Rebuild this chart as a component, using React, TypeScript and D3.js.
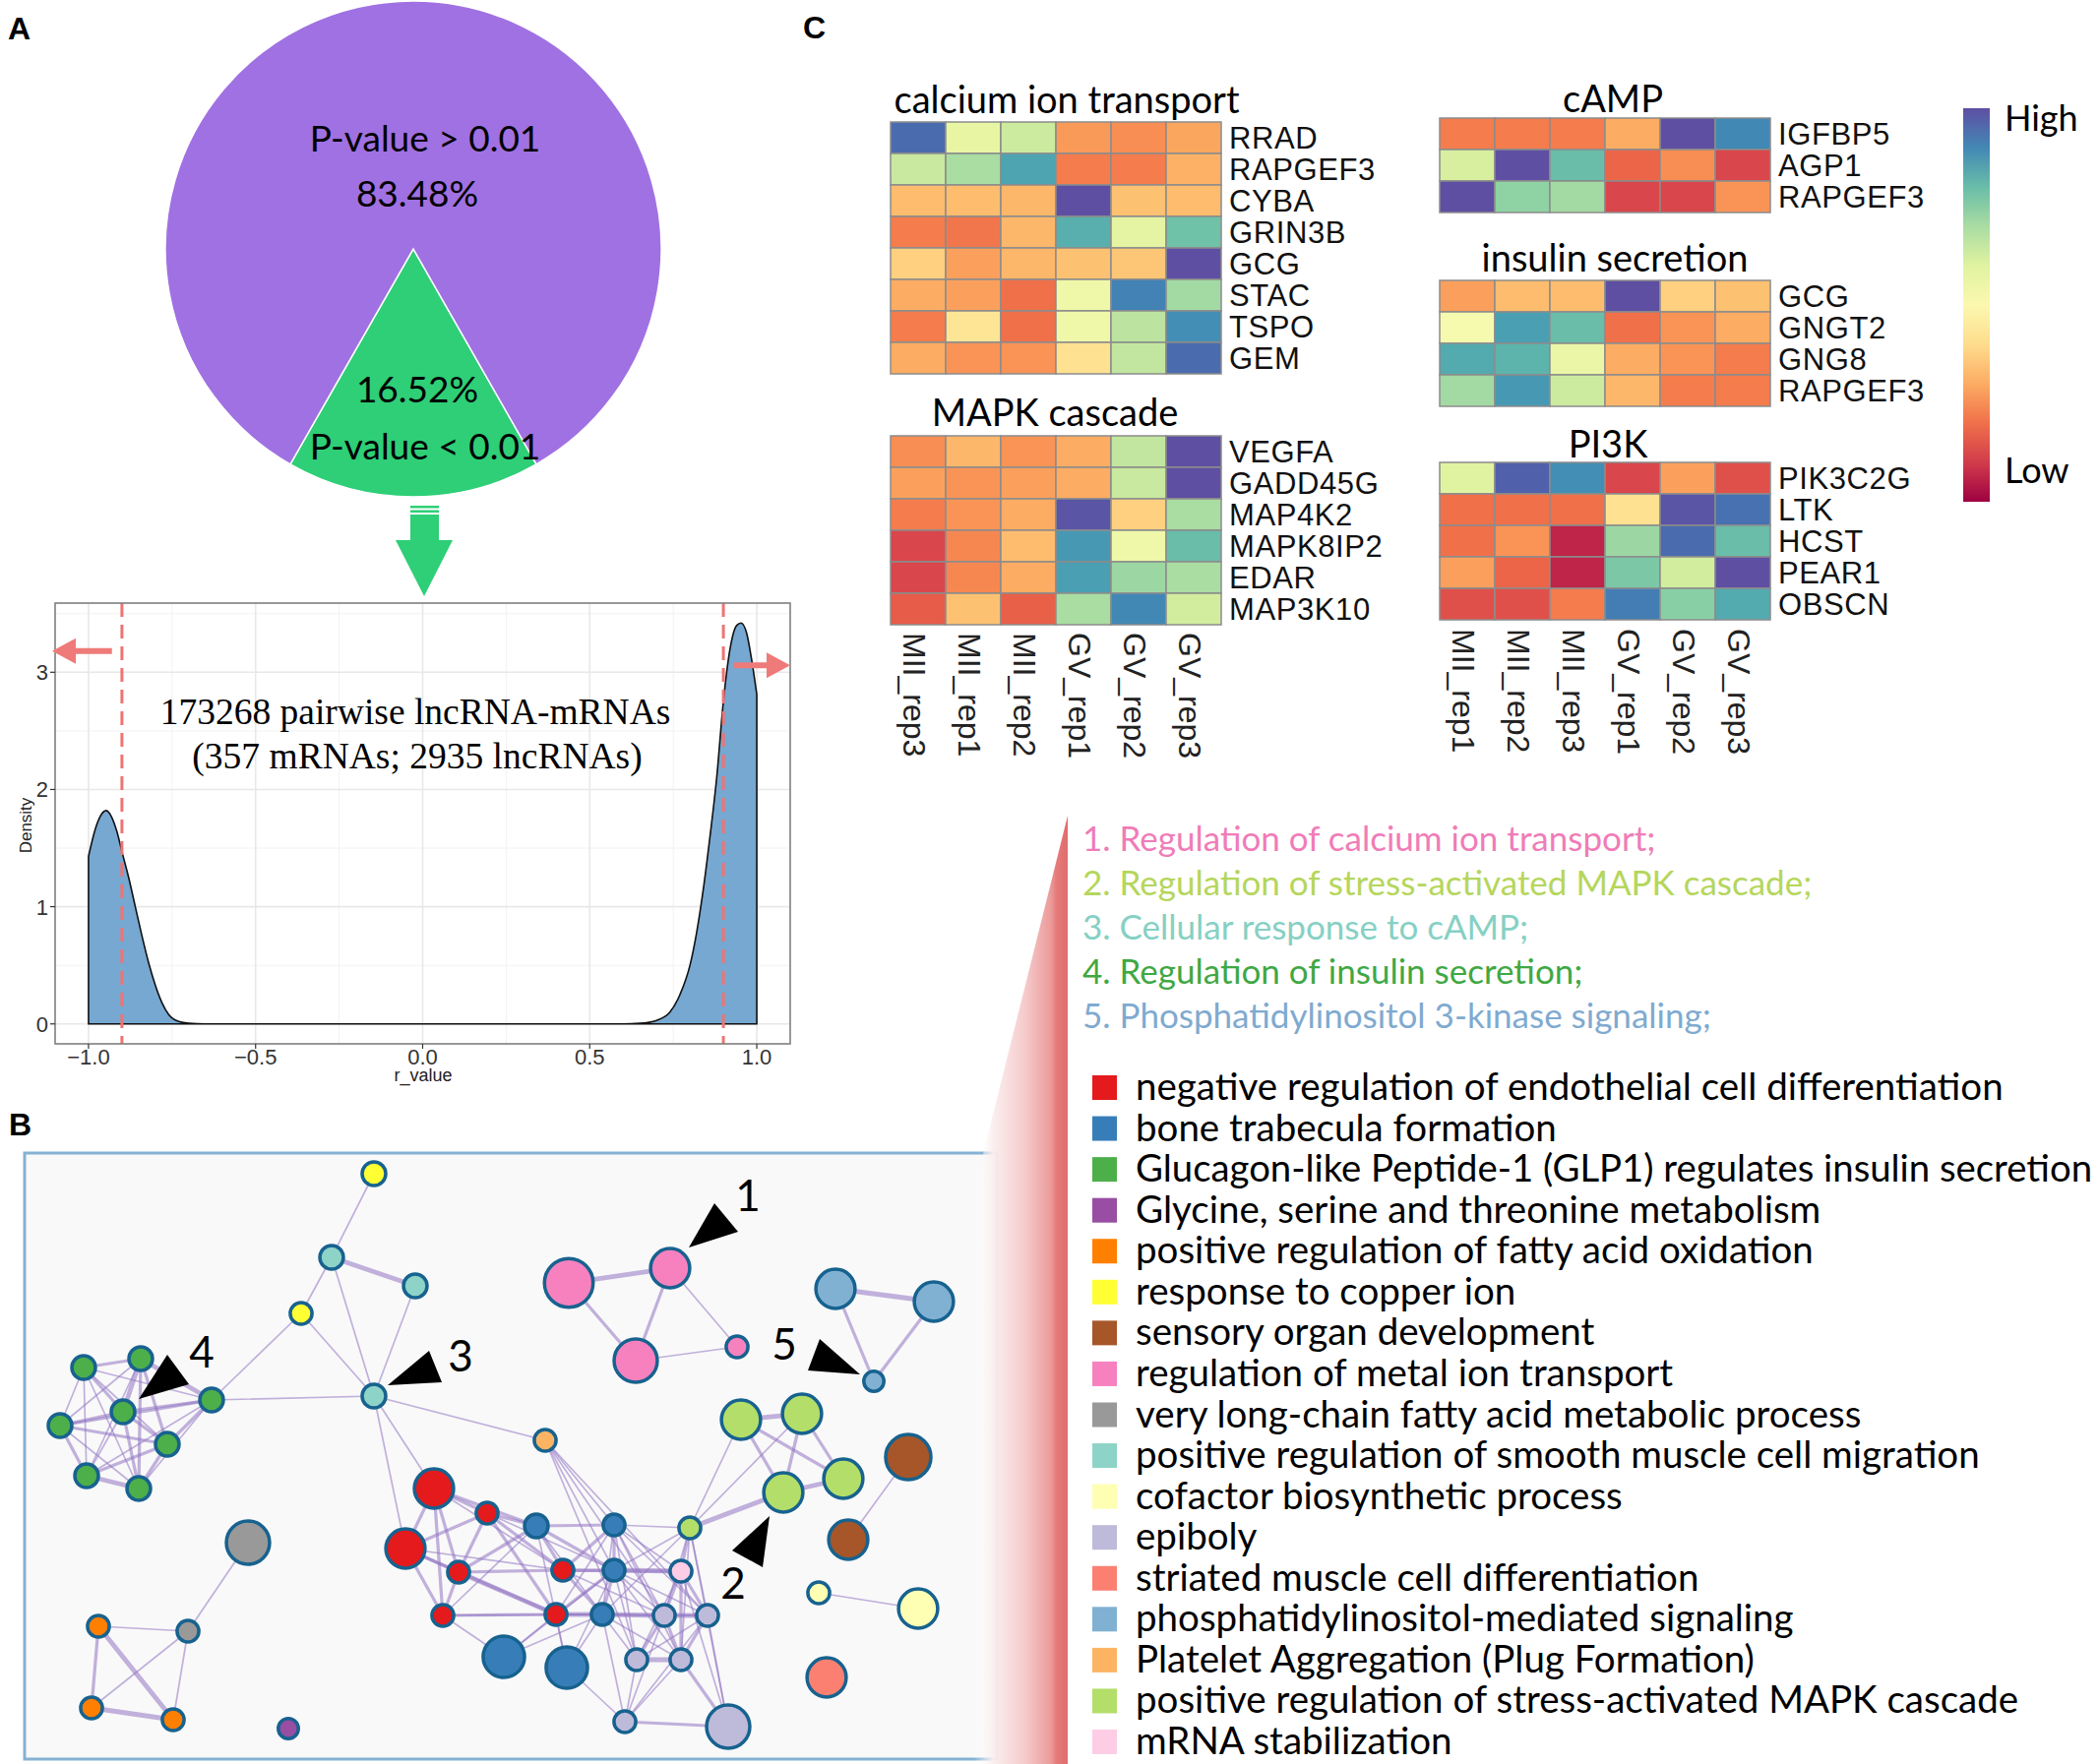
import * as d3 from "d3";

// ---------------- data ----------------
// A: pie
const pieNames = ["P-value < 0.01", "P-value > 0.01"];
const piePercents = [16.52, 83.48];
const pieColors = ["#2ecf77", "#a071e2"];

// A: density of r_value
const densityX = [-1.0, -0.98, -0.965, -0.947, -0.93, -0.915, -0.9, -0.88, -0.86, -0.84, -0.82, -0.8, -0.78, -0.76, -0.73, -0.7, -0.65, 0.6, 0.65, 0.7, 0.74, 0.77, 0.8, 0.82, 0.84, 0.86, 0.88, 0.9, 0.92, 0.94, 0.953, 0.97, 0.985, 1.0];
const densityY = [1.43, 1.66, 1.77, 1.82, 1.76, 1.64, 1.47, 1.25, 1.0, 0.75, 0.52, 0.33, 0.18, 0.08, 0.02, 0.005, 0, 0, 0.005, 0.03, 0.1, 0.25, 0.5, 0.78, 1.15, 1.6, 2.1, 2.75, 3.2, 3.4, 3.42, 3.33, 3.1, 2.81];
const cutoffs = [-0.9, 0.9];
const xTicks = [-1, -0.5, 0, 0.5, 1];
const xMinor = [-0.75, -0.25, 0.25, 0.75];
const yTicks = [0, 1, 2, 3];
const yMinor = [0.5, 1.5, 2.5, 3.5];

// C: heatmaps (0 = low, 1 = high)
const leftSamples = ["MII_rep3", "MII_rep1", "MII_rep2", "GV_rep1", "GV_rep2", "GV_rep3"];
const rightSamples = ["MII_rep1", "MII_rep2", "MII_rep3", "GV_rep1", "GV_rep2", "GV_rep3"];

const calciumGenes = ["RRAD", "RAPGEF3", "CYBA", "GRIN3B", "GCG", "STAC", "TSPO", "GEM"];
const calciumValues = [
  [0.95, 0.58, 0.64, 0.27, 0.25, 0.29],
  [0.65, 0.7, 0.85, 0.22, 0.22, 0.31],
  [0.33, 0.33, 0.32, 1.0, 0.34, 0.33],
  [0.22, 0.21, 0.32, 0.83, 0.59, 0.79],
  [0.37, 0.28, 0.32, 0.34, 0.35, 1.0],
  [0.3, 0.28, 0.2, 0.56, 0.91, 0.71],
  [0.22, 0.42, 0.2, 0.56, 0.67, 0.89],
  [0.3, 0.26, 0.26, 0.41, 0.66, 0.95],
];

const mapkGenes = ["VEGFA", "GADD45G", "MAP4K2", "MAPK8IP2", "EDAR", "MAP3K10"];
const mapkValues = [
  [0.25, 0.32, 0.26, 0.3, 0.66, 1.0],
  [0.28, 0.26, 0.28, 0.3, 0.65, 1.0],
  [0.22, 0.26, 0.3, 0.99, 0.37, 0.7],
  [0.12, 0.24, 0.33, 0.87, 0.56, 0.8],
  [0.12, 0.24, 0.3, 0.86, 0.72, 0.7],
  [0.16, 0.34, 0.17, 0.7, 0.9, 0.63],
];

const campGenes = ["IGFBP5", "AGP1", "RAPGEF3"];
const campValues = [
  [0.22, 0.22, 0.22, 0.3, 1.0, 0.9],
  [0.62, 1.0, 0.8, 0.18, 0.25, 0.12],
  [1.0, 0.74, 0.71, 0.12, 0.12, 0.26],
];

const insulinGenes = ["GCG", "GNGT2", "GNG8", "RAPGEF3"];
const insulinValues = [
  [0.28, 0.33, 0.33, 1.0, 0.37, 0.34],
  [0.53, 0.86, 0.8, 0.2, 0.26, 0.3],
  [0.84, 0.82, 0.57, 0.3, 0.26, 0.22],
  [0.71, 0.87, 0.64, 0.32, 0.22, 0.22],
];

const pi3kGenes = ["PIK3C2G", "LTK", "HCST", "PEAR1", "OBSCN"];
const pi3kValues = [
  [0.6, 0.97, 0.89, 0.12, 0.28, 0.14],
  [0.2, 0.2, 0.2, 0.41, 0.99, 0.94],
  [0.2, 0.26, 0.06, 0.72, 0.95, 0.8],
  [0.28, 0.18, 0.06, 0.77, 0.63, 1.0],
  [0.14, 0.14, 0.22, 0.92, 0.75, 0.84],
];

// B: enrichment network
const termKeys = ["endo", "bone", "glp1", "gly", "fao", "copper", "sensory", "metal", "vlcfa", "smc", "cofactor", "epiboly", "striated", "pi", "platelet", "mapk", "mrna"];
const termLabels = [
  "negative regulation of endothelial cell differentiation",
  "bone trabecula formation",
  "Glucagon-like Peptide-1 (GLP1) regulates insulin secretion",
  "Glycine, serine and threonine metabolism",
  "positive regulation of fatty acid oxidation",
  "response to copper ion",
  "sensory organ development",
  "regulation of metal ion transport",
  "very long-chain fatty acid metabolic process",
  "positive regulation of smooth muscle cell migration",
  "cofactor biosynthetic process",
  "epiboly",
  "striated muscle cell differentiation",
  "phosphatidylinositol-mediated signaling",
  "Platelet Aggregation (Plug Formation)",
  "positive regulation of stress-activated MAPK cascade",
  "mRNA stabilization",
];
const termColors = ["#e41a1c", "#377eb8", "#4daf4a", "#984ea3", "#ff7f00", "#ffff33", "#a65628", "#f781bf", "#999999", "#8dd3c7", "#ffffb3", "#bebada", "#fb8072", "#80b1d3", "#fdb462", "#b3de69", "#fccde5"];

// [id, term, layoutX, layoutY, count]
const nodes: [string, string, number, number, number][] = [
  ["y1", "copper", 355, 21, 4], ["t1", "smc", 312, 106, 4], ["t2", "smc", 397, 135, 4],
  ["y2", "copper", 281, 163, 3.4], ["t3", "smc", 355, 247, 4],
  ["g1", "glp1", 60, 218, 4], ["g2", "glp1", 118, 209, 4], ["g3", "glp1", 190, 251, 4], ["g4", "glp1", 100, 263, 4],
  ["g5", "glp1", 36, 277, 4], ["g6", "glp1", 145, 296, 4], ["g7", "glp1", 63, 328, 4], ["g8", "glp1", 116, 341, 4],
  ["o0", "platelet", 529, 292, 3.4],
  ["p1", "metal", 553, 132, 17], ["p2", "metal", 656, 117, 11], ["p3", "metal", 621, 211, 13.4], ["p4", "metal", 724, 197, 3.4],
  ["pi1", "pi", 824, 138, 11], ["pi2", "pi", 924, 151, 11], ["pi3", "pi", 863, 232, 2.9],
  ["lg1", "mapk", 728, 271, 11], ["lg2", "mapk", 790, 265, 11], ["lg3", "mapk", 832, 331, 11], ["lg4", "mapk", 771, 345, 11], ["lg5", "mapk", 676, 381, 3.4],
  ["br1", "sensory", 898, 309, 14.7], ["br2", "sensory", 837, 393, 11],
  ["cf1", "cofactor", 807, 447, 3.4], ["cf2", "cofactor", 908, 463, 11],
  ["st", "striated", 815, 533, 11],
  ["R1", "endo", 416, 341, 11], ["R2", "endo", 470, 366, 3.4], ["R3", "endo", 387, 402, 11], ["R4", "endo", 441, 426, 3.4],
  ["R5", "endo", 547, 424, 3.4], ["R6", "endo", 425, 470, 3.4], ["R7", "endo", 540, 469, 3.4],
  ["B1", "bone", 520, 379, 4], ["B2", "bone", 599, 378, 3.4], ["B3", "bone", 599, 424, 3.4], ["B4", "bone", 587, 469, 3.4],
  ["BB1", "bone", 487, 512, 12.3], ["BB2", "bone", 551, 523, 12.3],
  ["L1", "epiboly", 650, 470, 3.4], ["L2", "epiboly", 694, 470, 3.4], ["L3", "epiboly", 622, 515, 3.4], ["L4", "epiboly", 667, 515, 3.4],
  ["L5", "epiboly", 610, 578, 3.4], ["LL", "epiboly", 715, 583, 13.4],
  ["M", "mrna", 667, 425, 3.4],
  ["gy1", "vlcfa", 227, 396, 13.4], ["gy2", "vlcfa", 166, 486, 3.4],
  ["of1", "fao", 75, 481, 3.4], ["of2", "fao", 68, 564, 3.4], ["of3", "fao", 151, 576, 3.4],
  ["pu", "gly", 268, 585, 2.9],
];

// [source, target, similarity class 1..3]
const edges: [string, string, number][] = [
  ["y1", "t1", 1], ["t1", "t2", 3], ["t1", "y2", 1], ["t1", "t3", 1], ["t2", "t3", 1], ["y2", "t3", 1], ["y2", "g3", 1],
  ["g3", "t3", 1], ["t3", "o0", 1], ["t3", "R1", 1], ["t3", "R3", 1],
  ["g1", "g2", 2], ["g1", "g3", 1], ["g1", "g4", 2], ["g1", "g5", 1], ["g1", "g6", 1], ["g1", "g7", 1], ["g1", "g8", 1],
  ["g2", "g3", 3], ["g2", "g4", 3], ["g2", "g5", 1], ["g2", "g6", 2], ["g2", "g7", 1], ["g2", "g8", 2],
  ["g3", "g4", 2], ["g3", "g5", 2], ["g3", "g6", 2], ["g3", "g7", 1], ["g3", "g8", 1],
  ["g4", "g5", 2], ["g4", "g6", 2], ["g4", "g7", 1], ["g4", "g8", 2],
  ["g5", "g6", 2], ["g5", "g7", 2], ["g5", "g8", 1], ["g6", "g7", 2], ["g6", "g8", 2], ["g7", "g8", 3],
  ["p1", "p2", 3], ["p1", "p3", 2], ["p2", "p3", 2], ["p2", "p4", 1], ["p3", "p4", 1],
  ["pi1", "pi2", 3], ["pi1", "pi3", 2], ["pi2", "pi3", 2],
  ["lg1", "lg2", 3], ["lg1", "lg4", 2], ["lg2", "lg4", 2], ["lg2", "lg3", 2], ["lg3", "lg4", 3], ["lg1", "lg3", 2],
  ["lg5", "lg1", 1], ["lg5", "lg2", 1], ["lg5", "lg4", 3],
  ["br1", "br2", 1], ["cf1", "cf2", 1],
  ["gy1", "gy2", 1], ["gy2", "of1", 1], ["of1", "of2", 2], ["of1", "of3", 3], ["of2", "of3", 3], ["of2", "gy2", 1], ["of3", "gy2", 1],
  ["o0", "B2", 1], ["o0", "L1", 1], ["o0", "L3", 1], ["o0", "B3", 1], ["o0", "L2", 1],
  ["lg5", "B2", 1], ["lg5", "B3", 1], ["lg5", "M", 2], ["lg5", "L1", 1], ["lg5", "L2", 1], ["lg5", "B4", 1], ["lg5", "L4", 1], ["lg5", "LL", 1],
  ["R1", "R2", 2], ["R1", "R3", 2], ["R1", "R4", 2], ["R1", "R6", 2], ["R1", "R5", 1], ["R1", "B1", 2],
  ["R2", "R3", 2], ["R2", "R4", 2], ["R2", "B1", 2], ["R2", "R5", 2], ["R2", "R7", 2], ["R2", "B3", 1],
  ["R3", "R4", 2], ["R3", "R6", 2], ["R3", "R5", 1], ["R3", "R7", 2],
  ["R4", "R6", 2], ["R4", "R5", 2], ["R4", "R7", 3], ["R4", "B1", 2],
  ["R6", "R7", 2], ["R6", "B1", 1], ["R6", "B4", 1], ["R6", "BB1", 1],
  ["R5", "B1", 2], ["R5", "B2", 2], ["R5", "B3", 2], ["R5", "B4", 2], ["R5", "M", 2], ["R5", "L1", 1],
  ["R7", "B2", 1], ["R7", "B3", 2], ["R7", "B4", 3], ["R7", "L1", 1], ["R7", "L2", 1], ["R7", "BB1", 1], ["R7", "BB2", 1],
  ["B1", "B2", 2], ["B1", "B3", 2], ["B1", "B4", 1], ["B1", "BB2", 1],
  ["B2", "B3", 2], ["B2", "B4", 1], ["B2", "M", 1], ["B2", "L1", 1], ["B2", "L2", 1], ["B2", "L3", 1], ["B2", "L4", 1],
  ["B3", "B4", 2], ["B3", "M", 3], ["B3", "L1", 1], ["B3", "L2", 1], ["B3", "L3", 1], ["B3", "L4", 1], ["B3", "BB1", 1], ["B3", "BB2", 1],
  ["B4", "L1", 3], ["B4", "L2", 1], ["B4", "L3", 1], ["B4", "L4", 1], ["B4", "L5", 1], ["B4", "BB2", 1], ["BB1", "B4", 1],
  ["M", "L1", 2], ["M", "L2", 2], ["M", "L3", 1], ["M", "L4", 2], ["M", "LL", 1],
  ["L1", "L2", 3], ["L1", "L3", 2], ["L1", "L4", 2], ["L2", "L3", 1], ["L2", "L4", 2], ["L2", "LL", 1],
  ["L3", "L4", 3], ["L3", "L5", 1], ["L4", "L5", 1], ["L4", "LL", 2], ["L5", "LL", 2], ["L1", "L5", 1], ["L2", "L5", 1],
  ["BB2", "L5", 1],
];

// network pointers: label, tip, two back corners, label centre (layout units)
const pointers: [string, number, number, number, number, number, number, number, number][] = [
  ["1", 675, 96, 701, 51, 725, 80, 735, 43],
  ["2", 757, 369, 719, 404, 750, 421, 720, 437],
  ["3", 369, 236, 411, 201, 424, 233, 443, 206],
  ["4", 116, 250, 145, 205, 167, 235, 180, 202],
  ["5", 849, 225, 796, 221, 808, 189, 772, 194],
];

const clusterNames = [
  "1. Regulation of calcium ion transport;",
  "2. Regulation of stress-activated MAPK cascade;",
  "3. Cellular response to cAMP;",
  "4. Regulation of insulin secretion;",
  "5. Phosphatidylinositol 3-kinase signaling;",
];
const clusterColors = ["#f07cb8", "#b5d65c", "#86d0c4", "#3fa844", "#7faad0"];

// ---------------- fonts ----------------
const SANS = "Lato, 'Open Sans', sans-serif";
const ARIAL = "'Liberation Sans', Arial, sans-serif";
const SERIF = "'Liberation Serif', 'Times New Roman', serif";

function Heatmap({ title, genes, samples, values, x0, y0, titleX, titleY }: {
  title: string; genes: string[]; samples: string[]; values: number[][];
  x0: number; y0: number; titleX: number; titleY: number;
}) {
  const cellW = 56;
  const cellH = 32;
  const x = d3.scaleBand<string>().domain(samples).range([x0, x0 + cellW * samples.length]);
  const y = d3.scaleBand<string>().domain(genes).range([y0, y0 + cellH * genes.length]);
  return (
    <g>
      <text x={titleX} y={titleY} textAnchor="middle" fontFamily={SANS} fontSize={38} fill="#000">{title}</text>
      {genes.map((g, i) =>
        samples.map((s, j) => (
          <rect key={g + s} x={x(s)} y={y(g)} width={x.bandwidth()} height={y.bandwidth()}
            fill={d3.interpolateSpectral(values[i][j])} stroke="#8c8c8c" strokeWidth={1.5} />
        ))
      )}
      {genes.map((g) => (
        <text key={g} x={x0 + cellW * samples.length + 8} y={(y(g) ?? 0) + cellH / 2} dy="0.36em"
          fontFamily={ARIAL} fontSize={31} letterSpacing={0.6} fill="#111">{g}</text>
      ))}
    </g>
  );
}

function ColLabels({ samples, x0, y0 }: { samples: string[]; x0: number; y0: number }) {
  const x = d3.scaleBand<string>().domain(samples).range([x0, x0 + 56 * samples.length]);
  return (
    <g>
      {samples.map((s) => {
        const cx = (x(s) ?? 0) + x.bandwidth() / 2 - 15;
        return (
          <text key={s} transform={`translate(${cx},${y0}) rotate(90)`} fontFamily={ARIAL} fontSize={32} fill="#222">{s}</text>
        );
      })}
    </g>
  );
}

export default function App() {
  // ---- pie ----
  const pieCx = 420, pieCy = 253, pieR = 252;
  const half = (piePercents[0] / 100) * Math.PI;
  const pieArcs = d3.pie<number>().sort(null).startAngle(Math.PI - half).endAngle(Math.PI - half + 2 * Math.PI)(piePercents);
  const arc = d3.arc<d3.PieArcDatum<number>>().innerRadius(0).outerRadius(pieR);
  const nameR = [201, 112];
  const pctR = [143, 56];
  const at = (r: number, d: d3.PieArcDatum<number>) => d3.arc<d3.PieArcDatum<number>>().innerRadius(r).outerRadius(r).centroid(d);

  // ---- density ----
  const xs = d3.scaleLinear().domain([-1.1, 1.1]).range([56, 803]);
  const ys = d3.scaleLinear().domain([-0.17, 3.59]).range([1061, 613]);
  const pts = densityX.map((v, i) => [v, densityY[i]] as [number, number]);
  const area = d3.area<[number, number]>().x((d) => xs(d[0])).y0(ys(0)).y1((d) => ys(d[1])).curve(d3.curveMonotoneX);
  const arrowY1 = ys(3.18), arrowY2 = ys(3.06);

  // ---- network ----
  const nx = d3.scaleLinear().domain([0, 988]).range([25, 1013]);
  const ny = d3.scaleLinear().domain([0, 616]).range([1172, 1788]);
  const nr = d3.scaleSqrt().domain([0, 16]).range([0, 24]);
  const ew = d3.scaleLinear().domain([1, 3]).range([1.7, 4.8]);
  const color = d3.scaleOrdinal<string, string>().domain(termKeys).range(termColors);
  const byId = new Map(nodes.map((n) => [n[0], n]));

  // ---- legends ----
  const clusterY = d3.scalePoint<string>().domain(clusterNames).range([865, 1045]);
  const termY = d3.scalePoint<string>().domain(termLabels).range([1118, 1783]);
  const longest = termLabels.reduce((a, b) => (b.length > a.length ? b : a));

  // block arrow for the density panel
  const blockArrow = (cx: number, cy: number, len: number, dir: number) => {
    const s = dir;
    const hx = cx + s * (len - 24);
    return `M${cx},${cy - 3}L${hx},${cy - 3}L${hx},${cy - 13}L${cx + s * len},${cy}L${hx},${cy + 13}L${hx},${cy + 3}L${cx},${cy + 3}Z`;
  };

  return (
    <div>
      <style>{`body{margin:0}`}</style>
      <svg width={2133} height={1793} viewBox="0 0 2133 1793" style={{ display: "block", background: "#fff" }}>
        <defs>
          <linearGradient id="wedge" gradientUnits="userSpaceOnUse" x1={990} y1={0} x2={1085} y2={0}>
            <stop offset="0" stopColor="#ffffff" stopOpacity={0} />
            <stop offset="0.2" stopColor="#fbeeee" stopOpacity={0.95} />
            <stop offset="0.55" stopColor="#f5caca" />
            <stop offset="0.82" stopColor="#ec9a9a" />
            <stop offset="0.88" stopColor="#e57b7b" />
            <stop offset="1" stopColor="#e06c6c" />
          </linearGradient>
          <linearGradient id="cbar" x1="0" y1="1" x2="0" y2="0">
            {d3.range(0, 1.0001, 0.1).map((t) => (
              <stop key={t} offset={t} stopColor={d3.interpolateSpectral(t)} />
            ))}
          </linearGradient>
        </defs>

        {/* panel letters */}
        <text x={8} y={40} fontFamily={ARIAL} fontWeight="bold" fontSize={32}>A</text>
        <text x={9} y={1154} fontFamily={ARIAL} fontWeight="bold" fontSize={32}>B</text>
        <text x={816} y={39} fontFamily={ARIAL} fontWeight="bold" fontSize={32}>C</text>

        {/* ---------- A: pie ---------- */}
        <g transform={`translate(${pieCx},${pieCy})`}>
          {pieArcs.map((d, i) => (
            <path key={i} d={arc(d) ?? ""} fill={pieColors[i]} stroke="#fff" strokeWidth={1.5} />
          ))}
          {pieArcs.map((d, i) => {
            const [nxp, nyp] = at(nameR[i], d);
            const [px, py] = at(pctR[i], d);
            return (
              <g key={i} fontFamily={SANS} fontSize={37} fill="#000" textAnchor="middle">
                <text x={nxp + 12} y={nyp} dy="0.35em">{pieNames[i]}</text>
                <text x={px + 4} y={py} dy="0.35em">{piePercents[i].toFixed(2)}%</text>
              </g>
            );
          })}
        </g>

        {/* green down arrow */}
        <g fill="#2ecf77">
          <rect x={417} y={514} width={29} height={2.5} />
          <rect x={417} y={518.5} width={29} height={2.5} />
          <rect x={417} y={523} width={29} height={27} />
          <path d="M402,549L460,549L431,606Z" />
        </g>

        {/* ---------- A: density ---------- */}
        <rect x={56} y={613} width={747} height={448} fill="#fff" />
        {xMinor.map((t) => <line key={"xm" + t} x1={xs(t)} x2={xs(t)} y1={613} y2={1061} stroke="#f2f2f2" strokeWidth={1} />)}
        {yMinor.map((t) => <line key={"ym" + t} x1={56} x2={803} y1={ys(t)} y2={ys(t)} stroke="#f2f2f2" strokeWidth={1} />)}
        {xTicks.map((t) => <line key={"xg" + t} x1={xs(t)} x2={xs(t)} y1={613} y2={1061} stroke="#e8e8e8" strokeWidth={1.6} />)}
        {yTicks.map((t) => <line key={"yg" + t} x1={56} x2={803} y1={ys(t)} y2={ys(t)} stroke="#e8e8e8" strokeWidth={1.6} />)}
        <path d={area(pts) ?? ""} fill="#76a8d1" stroke="#111" strokeWidth={1.6} />
        {cutoffs.map((c) => (
          <line key={c} x1={xs(c)} x2={xs(c)} y1={613} y2={1061} stroke="#ee7474" strokeWidth={3} strokeDasharray="14 8" />
        ))}
        <rect x={56} y={613} width={747} height={448} fill="none" stroke="#7f7f7f" strokeWidth={1.6} />
        {yTicks.map((t) => (
          <g key={"yl" + t}>
            <line x1={51} x2={56} y1={ys(t)} y2={ys(t)} stroke="#333" strokeWidth={1.2} />
            <text x={49} y={ys(t)} dy="0.36em" textAnchor="end" fontFamily={ARIAL} fontSize={22} fill="#333">{t}</text>
          </g>
        ))}
        {xTicks.map((t) => (
          <g key={"xl" + t}>
            <line x1={xs(t)} x2={xs(t)} y1={1061} y2={1066} stroke="#333" strokeWidth={1.2} />
            <text x={xs(t)} y={1082} textAnchor="middle" fontFamily={ARIAL} fontSize={22} fill="#333">{d3.format(".1f")(t).replace("-", "\u2212")}</text>
          </g>
        ))}
        <text x={430} y={1099} textAnchor="middle" fontFamily={ARIAL} fontSize={18} fill="#222">r_value</text>
        <text transform="translate(32,839) rotate(-90)" textAnchor="middle" fontFamily={ARIAL} fontSize={17} fill="#222">Density</text>
        <text x={422} y={736} textAnchor="middle" fontFamily={SERIF} fontSize={37.5} fill="#000">173268 pairwise lncRNA-mRNAs</text>
        <text x={424} y={781} textAnchor="middle" fontFamily={SERIF} fontSize={37.5} fill="#000">(357 mRNAs; 2935 lncRNAs)</text>
        <path d={blockArrow(xs(-0.93), arrowY1, xs(-0.93) - xs(-1.1) + 3, -1)} fill="#ef7a7a" />
        <path d={blockArrow(xs(0.93), arrowY2, xs(1.1) - xs(0.93), 1)} fill="#ef7a7a" />

        {/* ---------- B: network ---------- */}
        <rect x={25} y={1172} width={988} height={616} fill="#f9f9f9" stroke="#84b2d3" strokeWidth={3} />
        <g stroke="#9274c2" strokeOpacity={0.55} strokeLinecap="round">
          {edges.map(([s, t, w], i) => {
            const a = byId.get(s)!;
            const b = byId.get(t)!;
            return <line key={i} x1={nx(a[2])} y1={ny(a[3])} x2={nx(b[2])} y2={ny(b[3])} strokeWidth={ew(w)} />;
          })}
        </g>
        {nodes.map(([id, term, x, y, c]) => (
          <circle key={id} cx={nx(x)} cy={ny(y)} r={nr(c)} fill={color(term)} stroke="#17628f" strokeWidth={3.5} />
        ))}
        {pointers.map(([lab, tx, ty, ax, ay, bx, by, lx, ly]) => (
          <g key={lab}>
            <path d={`M${nx(tx)},${ny(ty)}L${nx(ax)},${ny(ay)}L${nx(bx)},${ny(by)}Z`} fill="#000" />
            <text x={nx(lx)} y={ny(ly)} dy="0.36em" textAnchor="middle" fontFamily={SANS} fontSize={44} fill="#000">{lab}</text>
          </g>
        ))}

        {/* wedge linking network to legend */}
        <path d="M1085,829L1085,1793L844,1793Z" fill="url(#wedge)" />

        {/* ---------- legends ---------- */}
        {clusterNames.map((n, i) => (
          <text key={n} x={1100} y={clusterY(n)} fontFamily={SANS} fontSize={35} fill={clusterColors[i]}>{n}</text>
        ))}
        {termLabels.map((n, i) => (
          <g key={n}>
            <rect x={1110} y={(termY(n) ?? 0) - 25} width={25} height={25} fill={termColors[i]} />
            <text x={1154} y={termY(n)} fontFamily={SANS} fontSize={38.5} fill="#000"
              {...(n === longest ? { textLength: 972, lengthAdjust: "spacingAndGlyphs" } : {})}>{n}</text>
          </g>
        ))}

        {/* ---------- C: heatmaps ---------- */}
        <Heatmap title="calcium ion transport" genes={calciumGenes} samples={leftSamples} values={calciumValues} x0={905} y0={124} titleX={1084} titleY={115} />
        <Heatmap title="MAPK cascade" genes={mapkGenes} samples={leftSamples} values={mapkValues} x0={905} y0={443} titleX={1072} titleY={433} />
        <ColLabels samples={leftSamples} x0={905} y0={643} />
        <Heatmap title="cAMP" genes={campGenes} samples={rightSamples} values={campValues} x0={1463} y0={120} titleX={1639} titleY={114} />
        <Heatmap title="insulin secretion" genes={insulinGenes} samples={rightSamples} values={insulinValues} x0={1463} y0={285} titleX={1641} titleY={276} />
        <Heatmap title="PI3K" genes={pi3kGenes} samples={rightSamples} values={pi3kValues} x0={1463} y0={470} titleX={1634} titleY={465} />
        <ColLabels samples={rightSamples} x0={1463} y0={639} />

        {/* colour bar */}
        <rect x={1995} y={110} width={27} height={400} fill="url(#cbar)" />
        <text x={2037} y={133} fontFamily={SANS} fontSize={36} fill="#000">High</text>
        <text x={2037} y={491} fontFamily={SANS} fontSize={36} fill="#000">Low</text>
      </svg>
    </div>
  );
}
